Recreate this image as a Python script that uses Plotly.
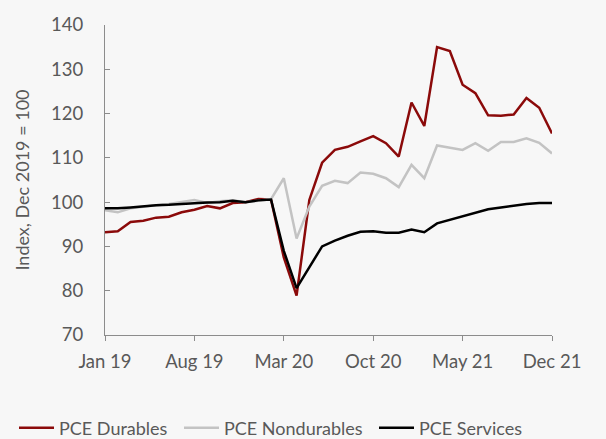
import plotly.graph_objects as go

months = ["Jan 19","Feb 19","Mar 19","Apr 19","May 19","Jun 19","Jul 19","Aug 19","Sep 19","Oct 19","Nov 19","Dec 19",
          "Jan 20","Feb 20","Mar 20","Apr 20","May 20","Jun 20","Jul 20","Aug 20","Sep 20","Oct 20","Nov 20","Dec 20",
          "Jan 21","Feb 21","Mar 21","Apr 21","May 21","Jun 21","Jul 21","Aug 21","Sep 21","Oct 21","Nov 21","Dec 21"]

durables = [93.2, 93.4, 95.5, 95.8, 96.5, 96.7, 97.7, 98.3, 99.1, 98.6, 99.8, 100.0,
            100.7, 100.6, 87.5, 78.9, 100.5, 108.9, 111.8, 112.5, 113.7, 114.9, 113.3, 110.3,
            122.5, 117.2, 135.0, 134.1, 126.5, 124.6, 119.6, 119.5, 119.8, 123.5, 121.3, 115.5]

nondurables = [98.2, 97.7, 98.6, 99.0, 99.3, 99.6, 100.0, 100.5, 99.8, 100.2, 100.4, 100.0,
               100.3, 100.7, 105.4, 91.8, 99.0, 103.7, 104.8, 104.3, 106.7, 106.4, 105.4, 103.4,
               108.4, 105.4, 112.8, 112.3, 111.8, 113.3, 111.6, 113.6, 113.6, 114.4, 113.4, 111.0]

services = [98.6, 98.6, 98.8, 99.1, 99.3, 99.4, 99.6, 99.8, 99.9, 100.0, 100.3, 100.0,
            100.4, 100.6, 89.0, 80.6, 85.3, 90.0, 91.3, 92.4, 93.3, 93.4, 93.1, 93.1,
            93.8, 93.2, 95.2, 96.0, 96.7, 97.5, 98.4, 98.8, 99.2, 99.6, 99.8, 99.8]

tick_idx = [0, 7, 14, 21, 28, 35]
tick_labels = [months[i] for i in tick_idx]
y_ticks = [70, 80, 90, 100, 110, 120, 130, 140]

x = list(range(len(months)))
font_color = "#595959"
axis_color = "#8C8C8C"
W, H = 606, 439

series = [("PCE Durables", durables, "#8B0A0A", "legend", 19),
          ("PCE Nondurables", nondurables, "#C3C3C3", "legend2", 184),
          ("PCE Services", services, "#000000", "legend3", 379)]

fig = go.Figure()
for name, vals, col, lg, _ in series:
    fig.add_trace(go.Scatter(x=x, y=vals, name=name, mode="lines", legend=lg,
                             line=dict(color=col, width=2.5),
                             cliponaxis=False, hoverinfo="skip"))

legend_common = dict(orientation="h", xref="container", yref="container", xanchor="left",
                     yanchor="middle", y=(H - 428) / H,
                     font=dict(family="Lato", size=18, color=font_color),
                     bgcolor="rgba(0,0,0,0)", borderwidth=0, itemwidth=30)

fig.update_layout(
    width=W, height=H,
    margin=dict(l=105, r=54, t=25, b=104, autoexpand=False),
    paper_bgcolor="#F7F7F7", plot_bgcolor="#F7F7F7",
    font=dict(family="Lato", size=18, color=font_color),
    showlegend=True,
    legend=dict(legend_common, x=series[0][4] / W),
    legend2=dict(legend_common, x=series[1][4] / W),
    legend3=dict(legend_common, x=series[2][4] / W),
    xaxis=dict(range=[0, 35], tickmode="array", tickvals=tick_idx, ticktext=tick_labels,
               showgrid=False, zeroline=False, showline=True, linecolor=axis_color, linewidth=1,
               ticks="outside", ticklen=5, tickcolor=axis_color, ticklabelstandoff=5,
               tickfont=dict(size=18.5, color=font_color), automargin=False),
    yaxis=dict(range=[70, 140], tickmode="array", tickvals=y_ticks,
               showgrid=False, zeroline=False, showline=True, linecolor=axis_color, linewidth=1,
               ticks="inside", ticklen=5, tickcolor=axis_color, ticklabelstandoff=17,
               tickfont=dict(size=18.5, color=font_color), automargin=False,
               title=dict(text="Index, Dec 2019 = 100", font=dict(size=18, color=font_color), standoff=16)),
)

post = """
document.body.style.margin = '0';
document.querySelectorAll('.legendlines path').forEach(function(p){ p.setAttribute('d','M-4,0h39'); });
"""
fig.write_html("out.html", post_script=post, config={"displayModeBar": False})
